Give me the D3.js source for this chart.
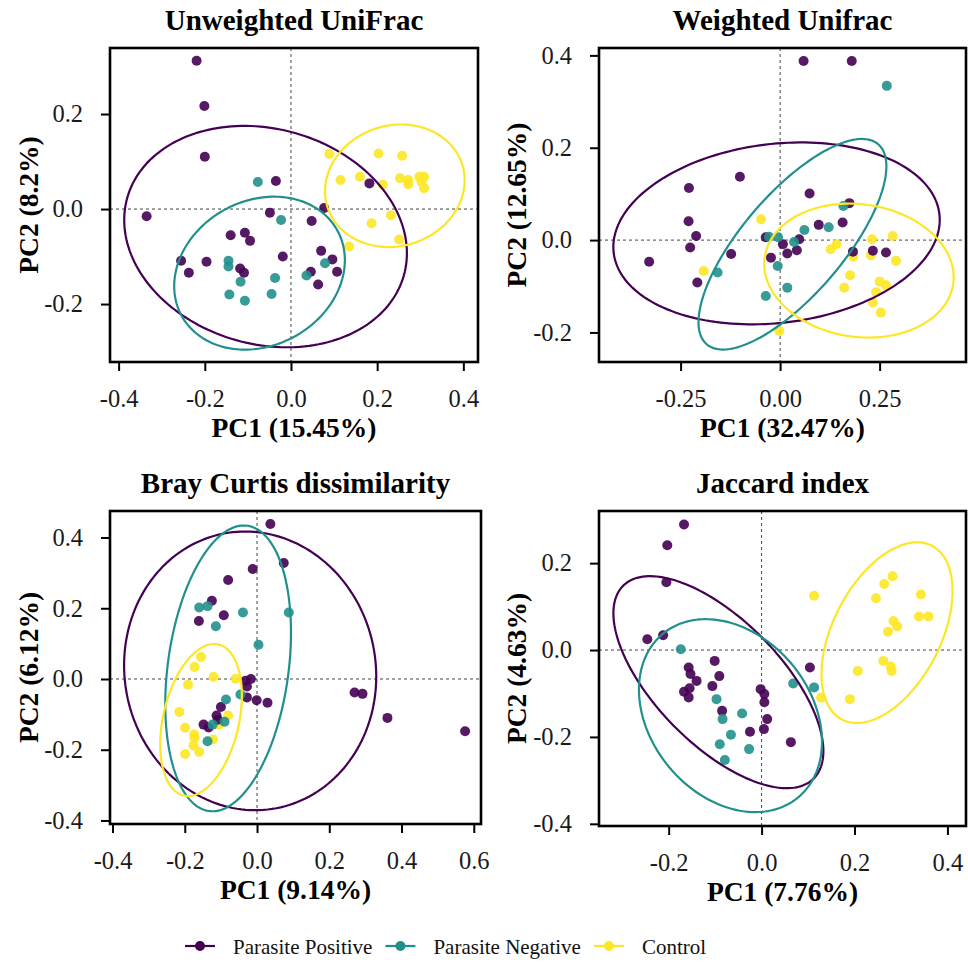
<!DOCTYPE html>
<html>
<head>
<meta charset="utf-8">
<script src="https://cdn.jsdelivr.net/npm/d3@7"></script>
<style>
  body { margin: 0; background: #fff; }
  svg { display: block; font-family: "Liberation Serif", "Times New Roman", serif; }
</style>
</head>
<body>
<script>
const width = 968;
const height = 967;

const groups = ['Parasite Positive', 'Parasite Negative', 'Control'];
const colors = ['#440154', '#21908C', '#FDE725'];

const titles = ['Unweighted UniFrac', 'Weighted Unifrac', 'Bray Curtis dissimilarity', 'Jaccard index'];
const xTitles = ['PC1 (15.45%)', 'PC1 (32.47%)', 'PC1 (9.14%)', 'PC1 (7.76%)'];
const yTitles = ['PC2 (8.2%)', 'PC2 (12.65%)', 'PC2 (6.12%)', 'PC2 (4.63%)'];

const xTicks = [[-0.4, -0.2, 0, 0.2, 0.4], [-0.25, 0, 0.25], [-0.4, -0.2, 0, 0.2, 0.4, 0.6], [-0.2, 0, 0.2, 0.4]];
const yTicks = [[-0.2, 0, 0.2], [-0.2, 0, 0.2, 0.4], [-0.4, -0.2, 0, 0.2, 0.4], [-0.4, -0.2, 0, 0.2]];
const xFormats = ['.1f', '.2f', '.1f', '.1f'];
const yFormats = ['.1f', '.1f', '.1f', '.1f'];
const xDomains = [[-0.42, 0.434], [-0.455, 0.467], [-0.407, 0.62], [-0.35, 0.44]];
const yDomains = [[-0.322, 0.339], [-0.264, 0.416], [-0.41, 0.475], [-0.405, 0.32]];

// Unweighted UniFrac
const unwPos = [[-0.219,0.312],[-0.201,0.217],[-0.200,0.110],[-0.335,-0.015],[-0.035,0.059],[-0.049,-0.008],[0.077,0.002],[0.048,-0.025],[-0.140,-0.055],[-0.107,-0.050],[-0.095,-0.067],[-0.255,-0.109],[-0.237,-0.134],[-0.196,-0.111],[-0.118,-0.125],[-0.109,-0.134],[-0.019,-0.100],[0.070,-0.088],[0.096,-0.106],[0.107,-0.132],[0.046,-0.132],[0.063,-0.159],[0.182,0.054]];
const unwNeg = [[-0.077,0.057],[-0.023,-0.023],[-0.145,-0.109],[-0.145,-0.121],[-0.117,-0.153],[-0.143,-0.180],[-0.107,-0.193],[-0.045,-0.179],[-0.037,-0.145],[0.036,-0.140],[0.079,-0.114]];
const unwCtl = [[0.089,0.116],[0.203,0.117],[0.258,0.112],[0.115,0.061],[0.160,0.068],[0.213,0.051],[0.253,0.065],[0.272,0.061],[0.272,0.052],[0.298,0.068],[0.309,0.068],[0.303,0.057],[0.309,0.044],[0.232,-0.013],[0.187,-0.030],[0.251,-0.064],[0.135,-0.079]];

// Weighted Unifrac
const wPos = [[0.059,0.388],[0.180,0.388],[-0.101,0.137],[-0.229,0.113],[0.074,0.101],[0.174,0.080],[-0.230,0.041],[-0.211,0.009],[-0.226,-0.016],[-0.329,-0.047],[-0.123,-0.030],[-0.208,-0.092],[-0.036,0.006],[0.007,-0.009],[0.018,-0.029],[0.042,-0.022],[0.048,0.002],[-0.023,-0.038],[0.097,0.033],[0.157,0.038],[0.183,-0.025],[0.233,-0.023],[0.266,-0.027]];
const wNeg = [[0.268,0.334],[0.159,0.074],[0.122,0.028],[0.061,0.022],[0.035,-0.004],[-0.028,0.007],[-0.005,0.006],[-0.006,-0.056],[-0.157,-0.070],[0.018,-0.103],[-0.036,-0.121]];
const wCtl = [[-0.048,0.045],[-0.192,-0.067],[-0.002,-0.197],[0.142,-0.009],[0.127,-0.020],[0.231,0.002],[0.283,0.009],[0.228,-0.033],[0.184,-0.036],[0.291,-0.045],[0.176,-0.076],[0.161,-0.103],[0.250,-0.090],[0.266,-0.098],[0.241,-0.113],[0.233,-0.135],[0.253,-0.157]];

// Bray Curtis
const bcPos = [[0.037,0.438],[0.074,0.328],[-0.012,0.311],[-0.080,0.280],[-0.125,0.221],[-0.092,0.180],[-0.161,0.164],[-0.032,-0.005],[-0.017,0.000],[-0.028,-0.021],[-0.028,-0.052],[-0.001,-0.060],[0.029,-0.067],[0.270,-0.038],[0.292,-0.042],[0.361,-0.110],[0.576,-0.148],[-0.100,-0.079],[-0.112,-0.103],[-0.148,-0.129],[-0.134,-0.137],[-0.109,-0.115]];
const bcNeg = [[-0.160,0.202],[-0.137,0.206],[-0.039,0.188],[0.088,0.188],[-0.114,0.149],[0.004,0.097],[-0.046,-0.044],[-0.086,-0.058],[-0.090,-0.121],[-0.123,-0.129],[-0.137,-0.176]];
const bcCtl = [[-0.155,0.062],[-0.173,0.034],[-0.120,0.006],[-0.191,-0.016],[-0.059,0.001],[-0.215,-0.093],[-0.080,-0.103],[-0.199,-0.138],[-0.105,-0.129],[-0.174,-0.157],[-0.173,-0.167],[-0.176,-0.188],[-0.122,-0.171],[-0.160,-0.206],[-0.199,-0.212]];

// Jaccard
const jPos = [[-0.167,0.289],[-0.203,0.241],[-0.205,0.156],[-0.246,0.025],[-0.212,0.034],[-0.101,-0.025],[-0.157,-0.040],[-0.153,-0.055],[-0.140,-0.071],[-0.091,-0.060],[-0.106,-0.083],[-0.167,-0.096],[-0.155,-0.088],[-0.157,-0.109],[-0.085,-0.140],[-0.002,-0.090],[0.006,-0.101],[0.006,-0.120],[0.012,-0.159],[0.005,-0.182],[-0.025,-0.188],[0.063,-0.212],[0.104,-0.040]];
const jNeg = [[-0.174,0.002],[-0.097,-0.113],[-0.084,-0.159],[-0.042,-0.146],[-0.066,-0.195],[-0.090,-0.217],[-0.027,-0.228],[-0.079,-0.253],[0.068,-0.077],[0.113,-0.086]];
const jCtl = [[0.113,0.125],[0.128,-0.110],[0.190,-0.113],[0.207,-0.048],[0.246,0.119],[0.264,0.152],[0.282,0.170],[0.284,0.067],[0.292,0.054],[0.272,0.042],[0.262,-0.025],[0.278,-0.038],[0.280,-0.048],[0.343,0.128],[0.339,0.077],[0.359,0.077]];

// confidence ellipses: centre, spread along x and y, correlation
const unwEll = [{cx:-0.059, cy:-0.058, sx:0.328, sy:0.233, r:-0.15}, {cx:-0.073, cy:-0.135, sx:0.198, sy:0.161, r:0.17}, {cx:0.241, cy:0.049, sx:0.162, sy:0.129, r:0.09}];
const wEll = [{cx:-0.009, cy:0.0145, sx:0.410, sy:0.197, r:0.15}, {cx:0.031, cy:-0.009, sx:0.236, sy:0.228, r:0.74}, {cx:0.198, cy:-0.066, sx:0.238, sy:0.145, r:-0.1}];
const bcEll = [{cx:-0.019, cy:0.023, sx:0.349, sy:0.394, r:-0.04}, {cx:-0.080, cy:0.030, sx:0.174, sy:0.404, r:0.25}, {cx:-0.155, cy:-0.116, sx:0.113, sy:0.215, r:0.32}];
const jEll = [{cx:-0.093, cy:-0.074, sx:0.226, sy:0.244, r:-0.65}, {cx:-0.067, cy:-0.151, sx:0.197, sy:0.222, r:-0.27}, {cx:0.270, cy:0.040, sx:0.141, sy:0.208, r:0.46}];

const points = [[unwPos, unwNeg, unwCtl], [wPos, wNeg, wCtl], [bcPos, bcNeg, bcCtl], [jPos, jNeg, jCtl]];
const ellipses = [unwEll, wEll, bcEll, jEll];

// panel frames in pixels
const frames = [
    {left: 110, right: 478, top: 48, bottom: 362},
    {left: 599, right: 966, top: 48, bottom: 362},
    {left: 110, right: 481, top: 511, bottom: 824},
    {left: 599, right: 966, top: 511, bottom: 826}
];
const yTitleX = [38, 526, 38, 526];

const svg = d3.select('body')
    .append('svg')
    .attr('width', width)
    .attr('height', height);

const drawOrder = [2, 0, 1];
const fmtHyphen = f => v => d3.format(f)(v).replace('\u2212', '-');

frames.forEach((fr, i) => {
    const x = d3.scaleLinear().domain(xDomains[i]).range([fr.left, fr.right]);
    const y = d3.scaleLinear().domain(yDomains[i]).range([fr.bottom, fr.top]);
    const g = svg.append('g');

    // zero reference lines
    g.append('line')
        .attr('x1', x(0)).attr('x2', x(0))
        .attr('y1', fr.top).attr('y2', fr.bottom)
        .attr('stroke', '#444').attr('stroke-width', 1).attr('stroke-dasharray', '3,3');
    g.append('line')
        .attr('x1', fr.left).attr('x2', fr.right)
        .attr('y1', y(0)).attr('y2', y(0))
        .attr('stroke', '#444').attr('stroke-width', 1).attr('stroke-dasharray', '3,3');

    drawOrder.forEach(k => {
        g.append('g')
            .selectAll('circle')
            .data(points[i][k])
            .join('circle')
            .attr('cx', d => x(d[0]))
            .attr('cy', d => y(d[1]))
            .attr('r', 5)
            .attr('fill', colors[k])
            .attr('fill-opacity', 0.9);
    });

    const ts = d3.range(0, 2 * Math.PI + 0.001, Math.PI / 90);
    const line = d3.line().x(d => x(d[0])).y(d => y(d[1])).curve(d3.curveLinearClosed);
    ellipses[i].forEach((e, k) => {
        const q = Math.sqrt(1 - e.r * e.r);
        const pts = ts.map(t => [e.cx + e.sx * Math.cos(t), e.cy + e.sy * (e.r * Math.cos(t) + q * Math.sin(t))]);
        g.append('path')
            .attr('d', line(pts))
            .attr('fill', 'none')
            .attr('stroke', colors[k])
            .attr('stroke-width', 2.2);
    });

    // panel border
    g.append('rect')
        .attr('x', fr.left).attr('y', fr.top)
        .attr('width', fr.right - fr.left).attr('height', fr.bottom - fr.top)
        .attr('fill', 'none').attr('stroke', '#000').attr('stroke-width', 2.6);

    const xAxis = g.append('g')
        .attr('transform', `translate(0,${fr.bottom + 1})`)
        .call(d3.axisBottom(x).tickValues(xTicks[i]).tickFormat(fmtHyphen(xFormats[i])).tickSize(8).tickPadding(19));
    const yAxis = g.append('g')
        .attr('transform', `translate(${fr.left - 1},0)`)
        .call(d3.axisLeft(y).tickValues(yTicks[i]).tickFormat(fmtHyphen(yFormats[i])).tickSize(8).tickPadding(18));
    [xAxis, yAxis].forEach(a => {
        a.attr('font-family', '"Liberation Serif", serif').attr('font-size', 24.5);
        a.select('.domain').remove();
        a.selectAll('line').attr('stroke', '#000').attr('stroke-width', 2);
        a.selectAll('text').attr('fill', '#1a1a1a');
    });

    const cx = (fr.left + fr.right) / 2;
    const cy = (fr.top + fr.bottom) / 2;
    svg.append('text')
        .attr('x', cx).attr('y', fr.top - 18)
        .attr('text-anchor', 'middle')
        .attr('font-weight', 'bold').attr('font-size', 29)
        .text(titles[i]);
    svg.append('text')
        .attr('x', cx).attr('y', fr.bottom + 75)
        .attr('text-anchor', 'middle')
        .attr('font-weight', 'bold').attr('font-size', 27.5)
        .text(xTitles[i]);
    svg.append('text')
        .attr('transform', `translate(${yTitleX[i]},${cy}) rotate(-90)`)
        .attr('text-anchor', 'middle')
        .attr('font-weight', 'bold').attr('font-size', 27.5)
        .text(yTitles[i]);
});

// legend
const legend = svg.append('g').attr('transform', 'translate(185,946)');
let lx = 0;
groups.forEach((name, k) => {
    const item = legend.append('g').attr('transform', `translate(${lx},0)`);
    item.append('line')
        .attr('x1', 0).attr('x2', 30)
        .attr('stroke', colors[k]).attr('stroke-width', 2.2);
    item.append('circle')
        .attr('cx', 15).attr('r', 5)
        .attr('fill', colors[k]);
    const t = item.append('text')
        .attr('x', 48).attr('y', 8)
        .attr('font-size', 21)
        .attr('fill', '#111')
        .text(name);
    lx += 48 + t.node().getComputedTextLength() + 13;
});
</script>
</body>
</html>
